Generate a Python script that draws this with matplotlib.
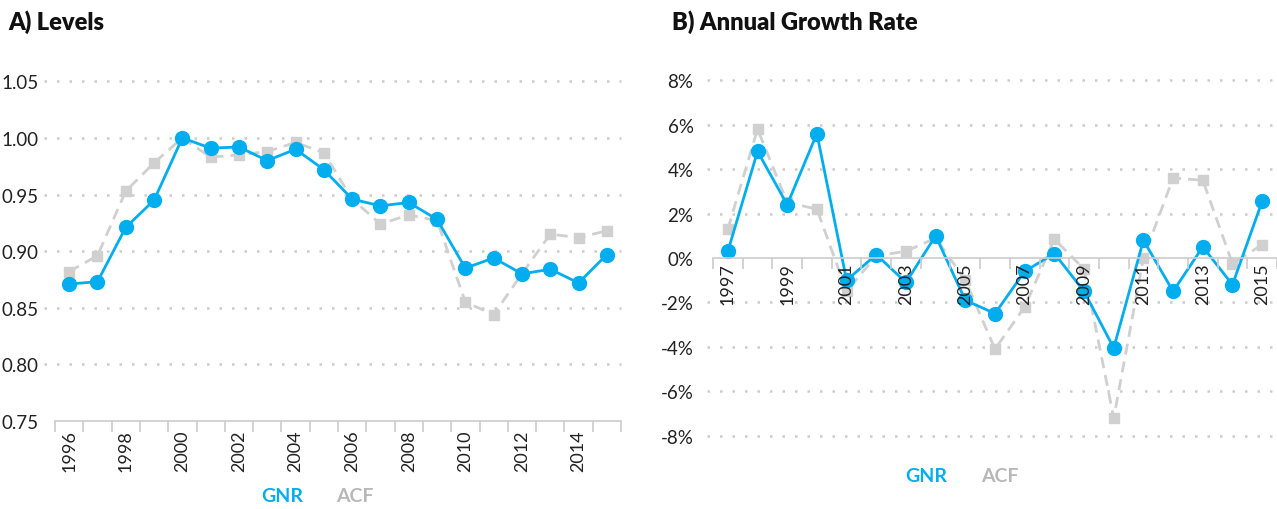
import numpy as np
import matplotlib
matplotlib.use("Agg")
import matplotlib.pyplot as plt
from matplotlib.ticker import FixedLocator

plt.rcParams['font.family'] = ['Lato', 'DejaVu Sans']

# --- data -------------------------------------------------------------
years_lvl = list(range(1996, 2016))
gnr_lvl = [0.871, 0.873, 0.921, 0.945, 1.000, 0.991, 0.992, 0.980, 0.990, 0.972,
           0.946, 0.940, 0.943, 0.928, 0.885, 0.894, 0.880, 0.884, 0.872, 0.897]
acf_lvl = [0.882, 0.896, 0.953, 0.978, 1.000, 0.983, 0.985, 0.988, 0.996, 0.987,
           0.946, 0.924, 0.932, 0.927, 0.855, 0.844, 0.880, 0.915, 0.912, 0.918]

years_gr = list(range(1997, 2016))
gnr_gr = [0.3, 4.8, 2.4, 5.6, -1.0, 0.15, -1.1, 1.0, -1.9, -2.5,
          -0.6, 0.2, -1.5, -4.05, 0.8, -1.5, 0.5, -1.2, 2.55]
acf_gr = [1.3, 5.8, 2.5, 2.2, -1.5, 0.1, 0.3, 0.9, -1.0, -4.1,
          -2.2, 0.85, -0.5, -7.2, 0.0, 3.6, 3.5, -0.25, 0.6]

lvl_ticks = [0.75, 0.80, 0.85, 0.90, 0.95, 1.00, 1.05]
gr_ticks = [-8, -6, -4, -2, 0, 2, 4, 6, 8]

BLUE = "#00AEEF"
GREY = "#D0D0D0"
GRID = "#CCCCCC"
TXT = "#222222"

W, H = 1277, 510
fig = plt.figure(figsize=(W / 100, H / 100), dpi=100)


def px_axes(x0, y0, x1, y1):
    # pixel box (top-left origin) -> figure axes
    return fig.add_axes([x0 / W, 1 - y1 / H, (x1 - x0) / W, (y1 - y0) / H])


def draw_series(ax, gnr, acf, z=3):
    x = np.arange(len(gnr))
    ax.plot(x, acf, color=GREY, lw=2.0, ls=(0, (4, 2.5)), marker='s', ms=7.5,
            mec=GREY, mfc=GREY, zorder=z, clip_on=False)
    ax.plot(x, gnr, color=BLUE, lw=2.0, marker='o', ms=10,
            mec=BLUE, mfc=BLUE, zorder=z + 0.1, clip_on=False)


def style_common(ax, n, years, ticks, fmt, xpad):
    ax.set_xlim(-0.5, n - 0.5)
    for s in ['top', 'right', 'left']:
        ax.spines[s].set_visible(False)
    ax.spines['bottom'].set_color(GRID)
    ax.spines['bottom'].set_linewidth(1.2)
    ax.set_xticks(np.arange(0, n, 2))
    ax.set_xticklabels([str(y) for y in years[::2]], rotation=90,
                       fontsize=13, color=TXT, va='top', ha='center')
    ax.xaxis.set_minor_locator(FixedLocator(np.arange(-0.5, n, 1)))
    ax.tick_params(axis='x', which='major', length=0, pad=xpad)
    ax.tick_params(axis='x', which='minor', length=8, color=GRID, width=1.2)
    ax.set_yticks(ticks)
    ax.set_yticklabels([fmt(t) for t in ticks], fontsize=13.5, color=TXT)
    ax.tick_params(axis='y', length=0, pad=12)
    ax.set_facecolor('none')


# --- A) Levels --------------------------------------------------------
ax1 = px_axes(55, 71, 621, 422)
ax1.set_ylim(0.75, 1.06)
style_common(ax1, len(years_lvl), years_lvl, lvl_ticks, lambda t: f"{t:.2f}", 6)
for t in lvl_ticks[1:]:
    ax1.axhline(t, xmin=-0.02, xmax=1.0, color=GRID, lw=1.8,
                ls=(0, (1, 4)), clip_on=False, zorder=1)
draw_series(ax1, gnr_lvl, acf_lvl)

# --- B) Annual Growth Rate -------------------------------------------
ax2 = px_axes(713, 59, 1277, 459)
ax2.set_ylim(-9, 9)
ax2.spines['bottom'].set_position(('data', 0))
style_common(ax2, len(years_gr), years_gr, gr_ticks, lambda t: f"{t:d}%", 3)
for t in gr_ticks:
    if t != 0:
        ax2.axhline(t, xmin=-0.01, xmax=1.0, color=GRID, lw=1.8,
                    ls=(0, (1, 4)), clip_on=False, zorder=1)
ax2.tick_params(axis='y', pad=14)
ax2.set_axisbelow(False)  # year labels sit on top of the lines here
draw_series(ax2, gnr_gr, acf_gr, z=2)

# --- titles and legends ----------------------------------------------
fig.text(8 / W, 1 - 22 / H, "A) Levels", fontsize=17, fontweight='heavy',
         color='#111111', va='center', ha='left')
fig.text(672 / W, 1 - 22 / H, "B) Annual Growth Rate", fontsize=17,
         fontweight='heavy', color='#111111', va='center', ha='left')

fig.text(282 / W, 1 - 497 / H, "GNR", fontsize=14, fontweight='bold',
         color=BLUE, va='center', ha='center')
fig.text(355 / W, 1 - 497 / H, "ACF", fontsize=14, fontweight='bold',
         color="#B8B8B8", va='center', ha='center')
fig.text(926 / W, 1 - 477 / H, "GNR", fontsize=14, fontweight='bold',
         color=BLUE, va='center', ha='center')
fig.text(1000 / W, 1 - 477 / H, "ACF", fontsize=14, fontweight='bold',
         color="#B8B8B8", va='center', ha='center')

fig.savefig("out.png", dpi=100)
